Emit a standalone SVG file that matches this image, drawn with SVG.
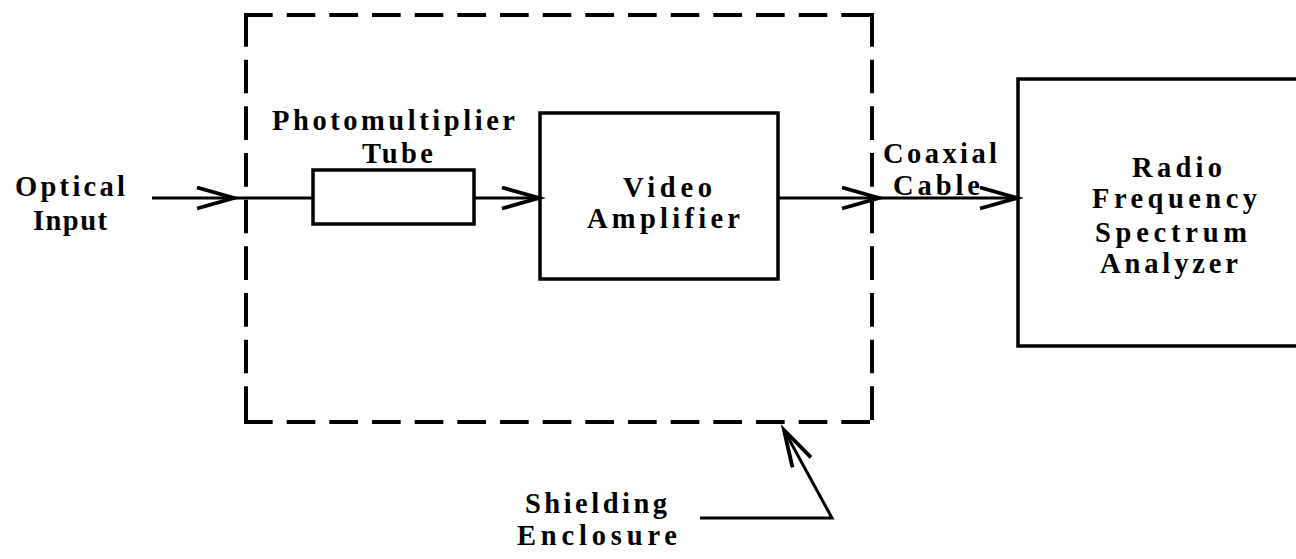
<svg xmlns="http://www.w3.org/2000/svg" width="1296" height="559" viewBox="0 0 1296 559">
  <style>
    .box { fill: none; stroke: #000; stroke-width: 3.5; }
    .dash { fill: none; stroke: #000; stroke-width: 4; stroke-linecap: butt; }
    .wire { fill: none; stroke: #000; stroke-width: 3; }
    .lbl { font-family: "Liberation Serif", "DejaVu Serif", serif; font-size: 28.5px; font-weight: bold; fill: #000; font-variant-ligatures: none; }
  </style>
  <defs>
    <marker id="chev" markerUnits="userSpaceOnUse" viewBox="0 0 50 30" markerWidth="50" markerHeight="30" refX="40" refY="12" orient="auto">
      <path d="M3,1.5 L40,12 L3,22.5" fill="none" stroke="#000" stroke-width="3.8" stroke-linejoin="miter"/>
    </marker>
  </defs>

  <rect width="1296" height="559" fill="#fff"/>

  <!-- shielding enclosure: dashed outline, each side ends on a dash -->
  <g id="enclosure">
    <path class="dash" d="M244,15 H874" stroke-dasharray="28.667 14"/>
    <path class="dash" d="M872,13 V424" stroke-dasharray="33.667 13"/>
    <path class="dash" d="M244,422 H874" stroke-dasharray="28.667 14"/>
    <path class="dash" d="M246,13 V424" stroke-dasharray="33.667 13"/>
  </g>

  <g id="optical-input">
    <text class="lbl" x="15" y="196" textLength="110" lengthAdjust="spacing">Optical</text>
    <text class="lbl" x="33" y="230" textLength="74" lengthAdjust="spacing">Input</text>
  </g>

  <g id="photomultiplier">
    <rect class="box" x="313" y="170" width="161" height="54"/>
    <text class="lbl" x="272" y="130" textLength="243" lengthAdjust="spacing">Photomultiplier</text>
    <text class="lbl" x="362" y="163" textLength="71" lengthAdjust="spacing">Tube</text>
  </g>

  <g id="video-amplifier">
    <rect class="box" x="540" y="113" width="238" height="166"/>
    <text class="lbl" x="623" y="197" textLength="89" lengthAdjust="spacing">Video</text>
    <text class="lbl" x="587" y="228" textLength="153" lengthAdjust="spacing">Amplifier</text>
  </g>

  <g id="coaxial-cable">
    <text class="lbl" x="883" y="163" textLength="114" lengthAdjust="spacing">Coaxial</text>
    <text class="lbl" x="893" y="195" textLength="87" lengthAdjust="spacing">Cable</text>
  </g>

  <g id="spectrum-analyzer">
    <rect class="box" x="1018" y="79" width="300" height="267"/>
    <text class="lbl" x="1132" y="177" textLength="90" lengthAdjust="spacing">Radio</text>
    <text class="lbl" x="1092" y="208" textLength="165" lengthAdjust="spacing">Frequency</text>
    <text class="lbl" x="1095" y="242" textLength="152" lengthAdjust="spacing">Spectrum</text>
    <text class="lbl" x="1100" y="273" textLength="138" lengthAdjust="spacing">Analyzer</text>
  </g>

  <g id="shielding-label">
    <text class="lbl" x="525" y="513" textLength="142" lengthAdjust="spacing">Shielding</text>
    <text class="lbl" x="517" y="545" textLength="160" lengthAdjust="spacing">Enclosure</text>
  </g>

  <g id="connectors">
    <path class="wire" d="M152,198 H234" marker-end="url(#chev)"/>
    <path class="wire" d="M234,198 H313"/>
    <path class="wire" d="M474,198 H539" marker-end="url(#chev)"/>
    <path class="wire" d="M778,198 H879" marker-end="url(#chev)"/>
    <path class="wire" d="M879,198 H1017" marker-end="url(#chev)"/>
    <path class="wire" d="M700,518 H832 L784,430" marker-end="url(#chev)"/>
  </g>
</svg>
